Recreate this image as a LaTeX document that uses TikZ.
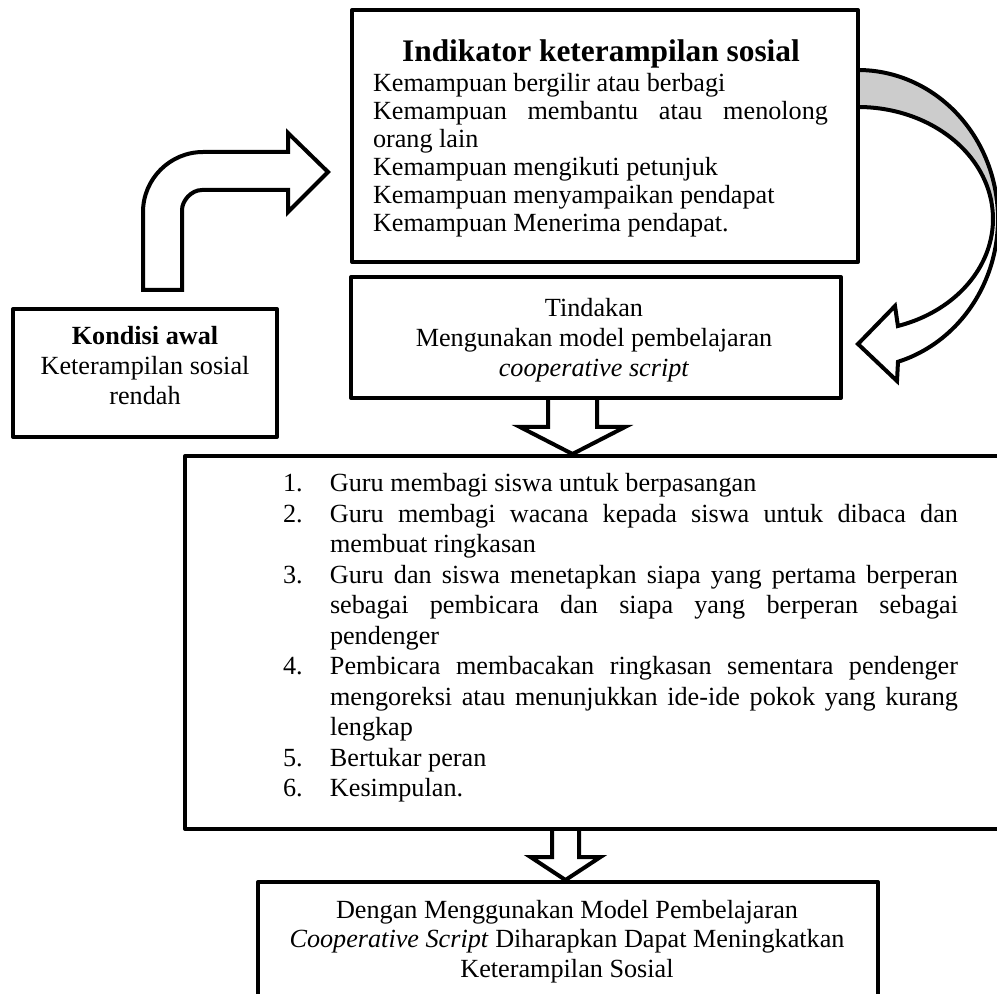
\documentclass[tikz,border=0pt]{standalone}
\usepackage{fontspec}
\setmainfont{Liberation Serif}
\usetikzlibrary{fit,calc}
\newcommand\numitem[2]{\hangindent=23.5pt\hangafter=1\noindent\makebox[23.5pt][l]{#1.}#2\par}
\begin{document}
\begin{tikzpicture}[x=0.5pt,y=-0.5pt,
  box/.style={draw=black,line width=2pt,line join=round,inner sep=0pt,fill=white},
  blockarrow/.style={draw=black,line width=2pt,line join=miter,miter limit=6},
  txt/.style={inner sep=0pt,outer sep=0pt},
]
\useasboundingbox (0,0) rectangle (997,994);

% ---- curved (Word-style) arrow from indicator box to Tindakan box
\fill[black!20] plot[domain=90:8,samples=50] ({858+140*cos(\x)},{219-149*sin(\x)})
   -- plot[domain=8:90,samples=50] ({858+135*cos(\x)},{219-112*sin(\x)}) -- cycle;

% ---- boxes
\node[box,fit={(352,10)(858,262)}] (ind) {};
\node[box,fit={(351,277)(841,398)}] (tind) {};
\node[box,fit={(13,309)(277,437)}] (kond) {};
\node[box,fit={(185,456)(1012,829)}] (big) {};
\node[box,fit={(258,882)(878,1012)}] (hasil) {};

\draw[blockarrow] plot[domain=90:-73.4,samples=90] ({858+140*cos(\x)},{219-149*sin(\x)})
   -- (897,381) -- (858,344) -- (895,306)
   -- plot[domain=-72.8:90,samples=90] ({858+135*cos(\x)},{219-112*sin(\x)});

% ---- bent arrow from Kondisi awal to indicator box
\coordinate (bentstart) at (162.5,290);
\coordinate (benttip) at (328,172);
\draw[blockarrow,fill=white] ($(bentstart)+(-19.5,0)$) -- (143,212)
   .. controls (143,179) and (170,152) .. (203,152) -- (288,152) -- (288,133)
   -- (benttip) -- (288,212) -- (288,190) -- (202,190)
   .. controls (191,190) and (182,201) .. (182,210) -- ($(bentstart)+(19.5,0)$) -- cycle;

% ---- down arrow Tindakan -> steps
\coordinate (axisA) at (572.5,0);
\coordinate (a1top) at (axisA |- tind.south);
\coordinate (a1tip) at (axisA |- big.north);
\draw[blockarrow] ($(a1top)+(-24.5,0)$) -- ++(0,27) -- ++(-28,0) -- (a1tip)
   -- ($(a1top)+(52.5,27)$) -- ++(-28,0) -- ++(0,-27);

% ---- down arrow steps -> result
\coordinate (axisB) at (565.5,0);
\coordinate (a2top) at (axisB |- big.south);
\coordinate (a2tip) at (axisB |- hasil.north);
\draw[blockarrow] ($(a2top)+(-13.5,0)$) -- ++(0,26) -- ++(-21.5,0) -- (a2tip)
   -- ($(a2top)+(35,26)$) -- ++(-21.5,0) -- ++(0,-26);

% ---- texts
\node[txt,anchor=base] (indtitle) at (601,62)
  {\fontsize{15.7}{18}\selectfont\bfseries Indikator keterampilan sosial};
\node[txt,anchor=base west] (indlist) at (373,92)
  {\parbox[t]{227.5pt}{\fontsize{13.1}{14}\selectfont
   Kemampuan bergilir atau berbagi\par
   Kemampuan membantu atau menolong\linebreak orang lain\par
   Kemampuan mengikuti petunjuk\par
   Kemampuan menyampaikan pendapat\par
   Kemampuan Menerima pendapat.\par}};

\node[txt,anchor=base] (kondtext) at (145,345)
  {\parbox[t]{130pt}{\centering\fontsize{13.1}{15}\selectfont
   \textbf{Kondisi awal}\\Keterampilan sosial\\rendah}};

\node[txt,anchor=base] (tindtext) at (594,317)
  {\parbox[t]{240pt}{\centering\fontsize{13.1}{15}\selectfont
   Tindakan\\Mengunakan model pembelajaran\\\textit{cooperative script}}};

\node[txt,anchor=base west] (steps) at (283,492)
  {\parbox[t]{337.5pt}{\fontsize{13.1}{15.25}\selectfont
   \numitem{1}{Guru membagi siswa untuk berpasangan}
   \numitem{2}{Guru membagi wacana kepada siswa untuk dibaca dan\linebreak membuat ringkasan}
   \numitem{3}{Guru dan siswa menetapkan siapa yang pertama berperan\linebreak sebagai pembicara dan siapa yang berperan sebagai\linebreak pendenger}
   \numitem{4}{Pembicara membacakan ringkasan sementara pendenger\linebreak mengoreksi atau menunjukkan ide-ide pokok yang kurang\linebreak lengkap}
   \numitem{5}{Bertukar peran}
   \numitem{6}{Kesimpulan.}}};

\node[txt,anchor=base] (hasiltext) at (567,918)
  {\parbox[t]{300pt}{\centering\fontsize{13.1}{14.75}\selectfont
   Dengan Menggunakan Model Pembelajaran\\
   \textit{Cooperative Script} Diharapkan Dapat Meningkatkan\\
   Keterampilan Sosial}};
\end{tikzpicture}
\end{document}
